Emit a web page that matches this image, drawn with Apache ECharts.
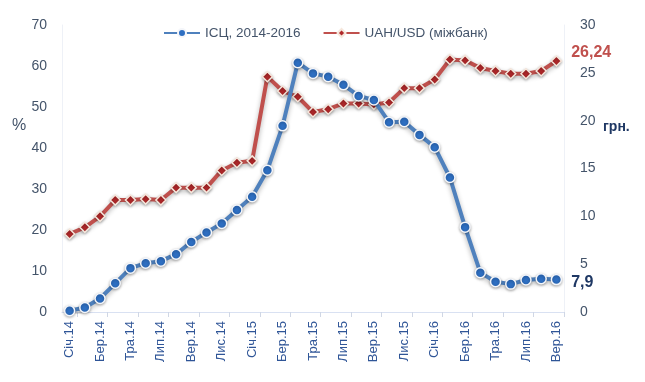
<!DOCTYPE html>
<html><head><meta charset="utf-8">
<script src="https://cdn.jsdelivr.net/npm/echarts@6/dist/echarts.min.js"></script>
<style>html,body{margin:0;padding:0;background:#fff}#c{width:645px;height:382px}</style>
</head><body><div id="c"></div>
<script>
const months = ['Січ','Лют','Бер','Кві','Тра','Чер','Лип','Сер','Вер','Жов','Лис','Гру'];
const categories = [];
for (const y of ['14','15','16']) for (const m of months) categories.push(m + '.' + y);
categories.length = 33;
const cpi = [0.3,1.1,3.3,7.0,10.7,11.9,12.4,14.1,17.1,19.4,21.6,24.9,28.1,34.6,45.4,60.8,58.2,57.4,55.4,52.7,51.7,46.3,46.4,43.2,40.2,32.8,20.7,9.6,7.4,6.8,7.8,8.1,7.9];
const uah = [8.15,8.85,10.0,11.7,11.7,11.8,11.7,13.0,13.0,13.0,14.8,15.6,15.8,24.6,23.1,22.5,20.9,21.2,21.8,21.8,21.7,21.9,23.4,23.4,24.3,26.4,26.3,25.5,25.2,24.9,24.9,25.2,26.24];
const seriesNames = ['ІСЦ, 2014-2016','UAH/USD (міжбанк)'];
const endLabels = ['7,9','26,24'];

const font = 'Liberation Sans';
const chart = echarts.init(document.getElementById('c'), null, {renderer:'canvas'});
function withEnd(arr, label, color, offset) {
  return arr.map((v,i)=> i===arr.length-1 ? {value:v, label:{show:true, position:'right', formatter:label, color:color, fontWeight:'bold', fontSize:16, fontFamily:font, offset:offset, distance:9}} : v);
}
chart.setOption({
  animation:false,
  textStyle:{fontFamily:font},
  legend:{top:21, left:158, itemWidth:36, itemHeight:10, itemGap:22, textStyle:{fontSize:13.5, color:'#44546a', fontFamily:font}, data:seriesNames},
  grid:{left:62, right:81, top:25, bottom:70},
  xAxis:{type:'category', data:categories, boundaryGap:true,
    axisLine:{lineStyle:{color:'#d9e1f2'}},
    axisTick:{show:true, interval:(i)=>i%2===1, length:5, lineStyle:{color:'#d0d7e5'}},
    axisLabel:{interval:1, rotate:90, fontSize:13, color:'#2f5597', margin:9, fontFamily:font},
    splitLine:{show:false}},
  yAxis:[
    {type:'value', min:0, max:70, interval:10, axisLine:{show:true, lineStyle:{color:'#eef1f7'}}, axisTick:{show:false}, splitLine:{show:false},
     axisLabel:{fontSize:14, color:'#44546a', margin:15, fontFamily:font}},
    {type:'value', min:0, max:30, interval:5, axisLine:{show:true, lineStyle:{color:'#eef1f7'}}, axisTick:{show:false}, splitLine:{show:false},
     axisLabel:{fontSize:14, color:'#44546a', margin:16, fontFamily:font}}
  ],
  graphic:[
    {type:'text', left:12, top:118, style:{text:'%', fontSize:16, fill:'#44546a', fontFamily:font}},
    {type:'text', left:603, top:120, style:{text:'грн.', fontSize:14, fill:'#1f3864', fontWeight:'bold', fontFamily:font}}
  ],
  series:[
    {name:seriesNames[0], type:'line', yAxisIndex:0, data:withEnd(cpi, endLabels[0], '#1f3864', [0,3]),
     symbol:'circle', symbolSize:10,
     lineStyle:{color:'#4f81bd', width:4, shadowBlur:5, shadowColor:'rgba(0,0,0,0.3)', shadowOffsetY:2},
     itemStyle:{color:'#2e6fc2', borderColor:'#f4f6fa', borderWidth:1.5, shadowBlur:3, shadowColor:'rgba(0,0,0,0.3)', shadowOffsetY:1}, z:3},
    {name:seriesNames[1], type:'line', yAxisIndex:1, data:withEnd(uah, endLabels[1], '#c0504d', [0,-8]),
     symbol:'diamond', symbolSize:10,
     lineStyle:{color:'#c0504d', width:4, shadowBlur:5, shadowColor:'rgba(0,0,0,0.3)', shadowOffsetY:2},
     itemStyle:{color:'#b0282a', borderColor:'#f6e7dc', borderWidth:1.5, shadowBlur:3, shadowColor:'rgba(0,0,0,0.3)', shadowOffsetY:1}, z:2}
  ]
});
</script></body></html>
